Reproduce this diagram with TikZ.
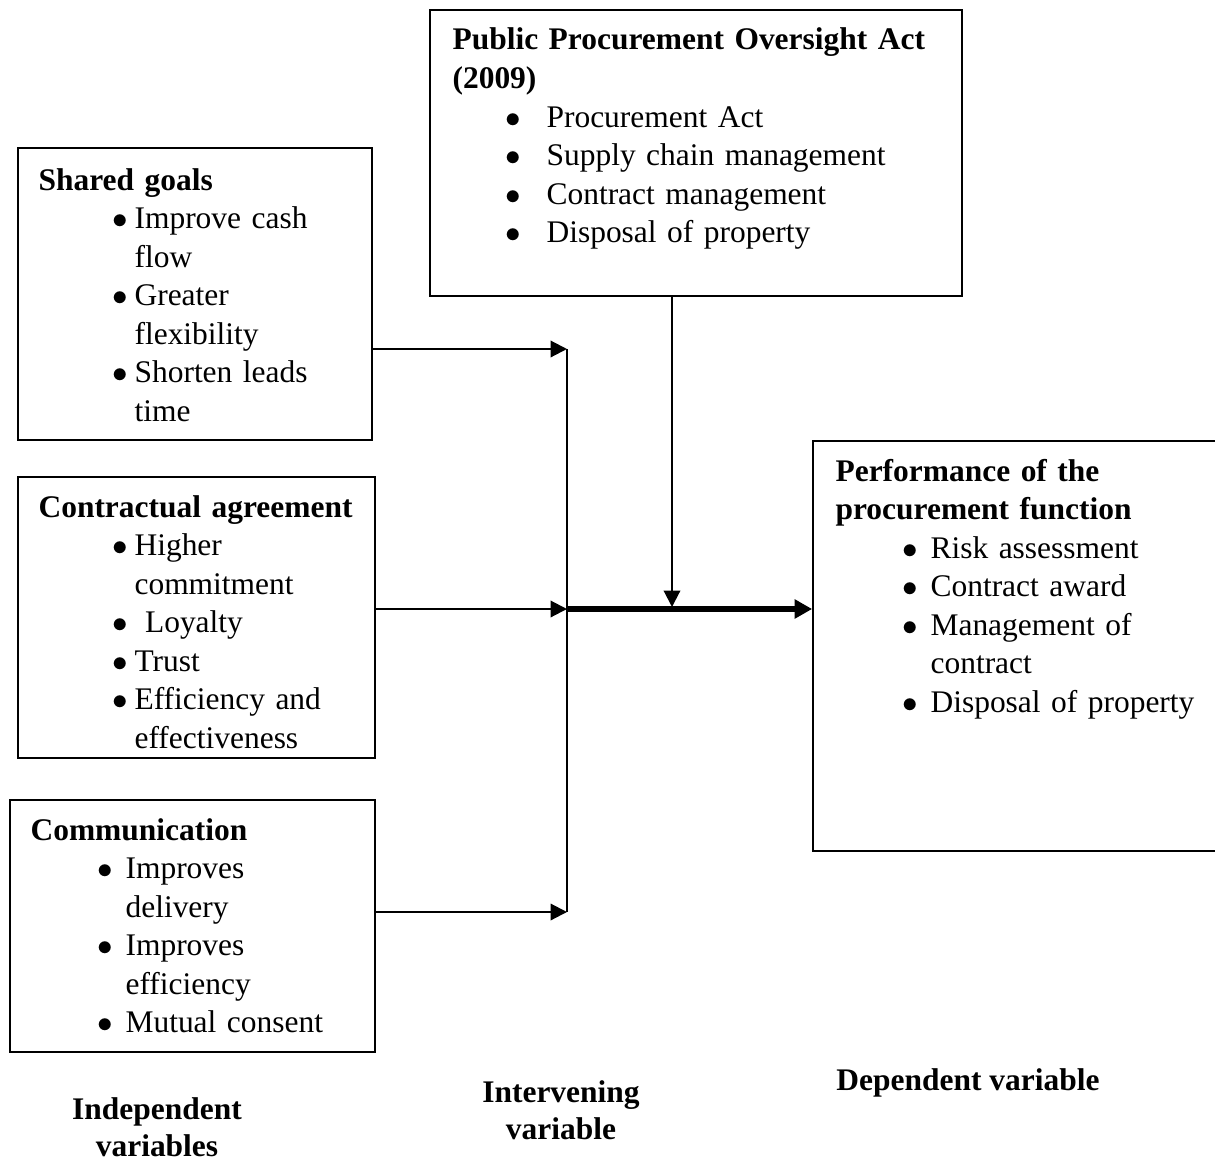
\documentclass[tikz,border=0pt]{standalone}
\usepackage{fontspec}
\setmainfont{Liberation Serif}
\usetikzlibrary{arrows.meta,fit}

\newlength\px \setlength\px{0.3528pt}
\newlength\bulind \newlength\bulgap
\newcommand{\itm}[1]{\hspace*{\bulind}\makebox[\bulgap][l]{\makebox[12\px]{$\bullet$}}#1}
\newcommand{\cnt}[1]{\hspace*{\bulind}\hspace*{\bulgap}#1}

\tikzset{
  box/.style={draw, line width=0.6pt, inner sep=0pt},
  txt/.style={anchor=base west, inner sep=0pt, text width=600\px, align=left,
    font=\fontsize{11.1}{13.6}\selectfont},
  lst/.style 2 args={execute at begin node={\setlength{\bulind}{#1\px}\setlength{\bulgap}{#2\px}}},
  lbl/.style={align=center, inner sep=0pt, font=\fontsize{11.1}{13.2}\selectfont\bfseries},
  link/.style={line width=0.75pt, -{Triangle[length=5.8pt,width=5.8pt]}},
  main/.style={line width=1.8pt, -{Triangle[length=6.2pt,width=6.5pt]}}
}

\begin{document}
\begin{tikzpicture}[x=0.3528pt, y=-0.3528pt]
\useasboundingbox (0,0) rectangle (1215,1162);

% boxes
\node[box, fit={(430,10) (962,296)}] (act) {};
\node[box, fit={(18,148) (372,440)}] (goals) {};
\node[box, fit={(18,477) (375,758)}] (contract) {};
\node[box, fit={(10,800) (375,1052)}] (comm) {};
\node[box, fit={(813,441) (1240,851)}] (perf) {};

% box texts
\node[txt, lst={55}{39}] (acttxt) at (452,50) {\textbf{Public Procurement Oversight Act}\\
  \textbf{(2009)}\\ \itm{Procurement Act}\\ \itm{Supply chain management}\\
  \itm{Contract management}\\ \itm{Disposal of property}};
\node[txt, lst={76}{20}] (goalstxt) at (38,190) {\textbf{Shared goals}\\
  \itm{Improve cash}\\ \cnt{flow}\\ \itm{Greater}\\ \cnt{flexibility}\\
  \itm{Shorten leads}\\ \cnt{time}};
\node[txt, lst={76}{20}] (contracttxt) at (38,517) {\textbf{Contractual agreement}\\
  \itm{Higher}\\ \cnt{commitment}\\ \itm{~Loyalty}\\ \itm{Trust}\\
  \itm{Efficiency and}\\ \cnt{effectiveness}};
\node[txt, lst={69}{26}] (commtxt) at (30,840) {\textbf{Communication}\\
  \itm{Improves}\\ \cnt{delivery}\\ \itm{Improves}\\ \cnt{efficiency}\\
  \itm{Mutual consent}};
\node[txt, lst={69}{26}] (perftxt) at (835,481) {\textbf{Performance of the}\\
  \textbf{procurement function}\\ \itm{Risk assessment}\\ \itm{Contract award}\\
  \itm{Management of}\\ \cnt{contract}\\ \itm{Disposal of property}};

% connectors
\coordinate (j1) at (567,349);
\coordinate (j2) at (567,609);
\coordinate (j3) at (567,912);
\coordinate (dn) at (672,607);
\draw[link] (goals.east |- j1) -- (j1);
\draw[link] (contract.east |- j2) -- (j2);
\draw[link] (comm.east |- j3) -- (j3);
\draw[line width=0.75pt] (j1) -- (j3);
\draw[main] (j2) -- (perf.west |- j2);
\draw[link] (act.south -| dn) -- (dn);

% labels
\node[lbl] (indep) at (157,1127) {Independent\\variables};
\node[lbl] (interv) at (561,1110) {Intervening\\variable};
\node[lbl] (dep) at (968,1083) {Dependent variable};
\end{tikzpicture}
\end{document}
